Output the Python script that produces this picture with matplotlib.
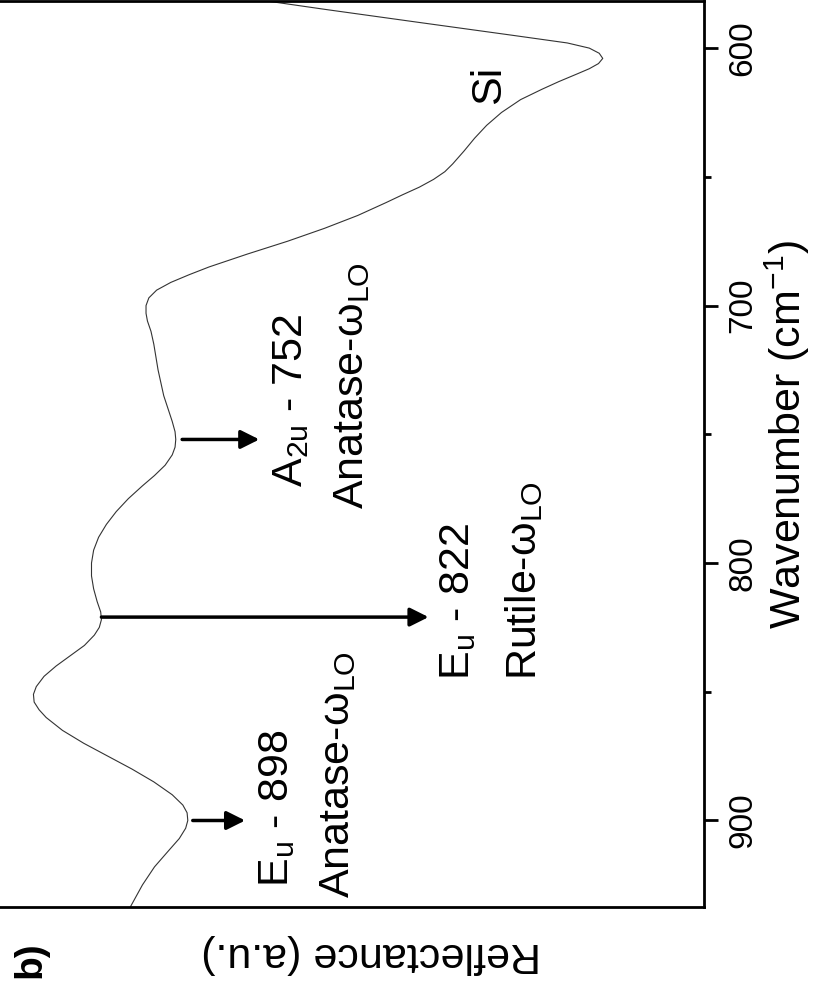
import matplotlib
matplotlib.use('Agg')
import matplotlib.pyplot as plt
from matplotlib.ticker import MultipleLocator

plt.rcParams['font.family'] = ['Liberation Sans', 'DejaVu Sans']
plt.rcParams['mathtext.fontset'] = 'custom'
plt.rcParams['mathtext.rm'] = 'Liberation Sans'
plt.rcParams['mathtext.it'] = 'Liberation Sans:italic'
plt.rcParams['mathtext.bf'] = 'Liberation Sans:bold'

# Spectrum (wavenumber in cm^-1, reflectance in a.u.)
wavenumber = [581, 585, 590, 595, 598, 600, 602, 604, 606, 608, 610, 613, 616,
              620, 625, 630, 635, 640, 645, 648, 651, 654, 657, 660, 665, 670,
              675, 680, 685, 688, 691, 694, 697, 700, 703, 706, 710, 715, 720,
              725, 730, 735, 740, 745, 749, 752, 755, 758, 762, 766, 770, 775,
              780, 785, 790, 795, 800, 805, 810, 815, 819, 822, 825, 828, 832,
              836, 840, 844, 848, 851, 854, 857, 860, 865, 870, 875, 880, 885,
              890, 894, 897, 900, 903, 907, 912, 918, 925, 934]
reflectance = [0.635, 0.534, 0.403, 0.271, 0.193, 0.162, 0.148, 0.143, 0.149,
               0.162, 0.179, 0.205, 0.229, 0.259, 0.286, 0.307, 0.324, 0.339,
               0.355, 0.366, 0.382, 0.402, 0.426, 0.449, 0.489, 0.536, 0.588,
               0.645, 0.699, 0.727, 0.753, 0.773, 0.784, 0.788, 0.788, 0.786,
               0.781, 0.777, 0.774, 0.771, 0.767, 0.763, 0.757, 0.751, 0.747,
               0.746, 0.747, 0.751, 0.761, 0.776, 0.793, 0.813, 0.830, 0.844,
               0.855, 0.862, 0.865, 0.865, 0.862, 0.857, 0.852, 0.851, 0.854,
               0.861, 0.875, 0.895, 0.915, 0.932, 0.943, 0.947, 0.946, 0.939,
               0.929, 0.906, 0.876, 0.842, 0.808, 0.777, 0.751, 0.736, 0.730,
               0.729, 0.732, 0.741, 0.757, 0.776, 0.793, 0.811]

# Mode annotations
arrow_wn = [752, 821, 900]
arrow_start = [0.737, 0.851, 0.722]
arrow_end = [0.628, 0.389, 0.648]
mode_labels = [r'$\mathrm{A_{2u}}$ - 752', r'$\mathrm{E_u}$ - 822', r'$\mathrm{E_u}$ - 898']
mode_pos = [(0.567, 770.4), (0.332, 845.3), (0.587, 925.8)]
phase_labels = [r'Anatase-ω$_{\mathrm{LO}}$', r'Rutile-ω$_{\mathrm{LO}}$',
                r'Anatase-ω$_{\mathrm{LO}}$']
phase_pos = [(0.482, 779.0), (0.237, 845.3), (0.501, 930.0)]

major_ticks = [600, 700, 800, 900]

fig = plt.figure(figsize=(8.19, 10.0), dpi=100)
ax = fig.add_axes([-0.005, 0.093, 0.8646, 0.906])

ax.plot(reflectance, wavenumber, color='#333333', lw=0.8)

ax.set_xlim(1.0, 0.0)
ax.set_ylim(933.6, 581.7)

for s in ax.spines.values():
    s.set_linewidth(2.0)

ax.set_xticks([])
ax.yaxis.tick_right()
ax.set_yticks(major_ticks)
ax.yaxis.set_minor_locator(MultipleLocator(50))
ax.tick_params(axis='y', which='major', direction='out', length=10, width=2,
               labelsize=24, pad=7)
ax.tick_params(axis='y', which='minor', direction='out', length=5, width=2)
for lab in ax.get_yticklabels():
    lab.set_rotation(90)
    lab.set_va('center')

ax.yaxis.set_label_position('right')
ax.set_ylabel(r'Wavenumber (cm$^{-1}$)', fontsize=31)
ax.yaxis.set_label_coords(1.083, 0.521)
ax.set_xlabel('Reflectance (a.u.)', fontsize=31, rotation=180)
ax.xaxis.set_label_coords(0.53, -0.03)

# Si label
ax.text(0.304, 614.3, 'Si', fontsize=31, rotation=90, ha='center', va='center')

for wn, x0, x1 in zip(arrow_wn, arrow_start, arrow_end):
    ax.annotate('', xy=(x1, wn), xytext=(x0, wn),
                arrowprops=dict(arrowstyle='-|>', color='black', lw=2.5,
                                mutation_scale=28, shrinkA=0, shrinkB=0))

for txt, (x, y) in zip(mode_labels, mode_pos):
    ax.text(x, y, txt, fontsize=31, rotation=90, rotation_mode='anchor',
            ha='left', va='baseline')
for txt, (x, y) in zip(phase_labels, phase_pos):
    ax.text(x, y, txt, fontsize=31, rotation=90, rotation_mode='anchor',
            ha='left', va='baseline')

fig.text(0.037, 0.04, 'b)', fontsize=28, fontweight='bold', rotation=90,
         ha='center', va='center')

fig.savefig('out.png', dpi=100)
